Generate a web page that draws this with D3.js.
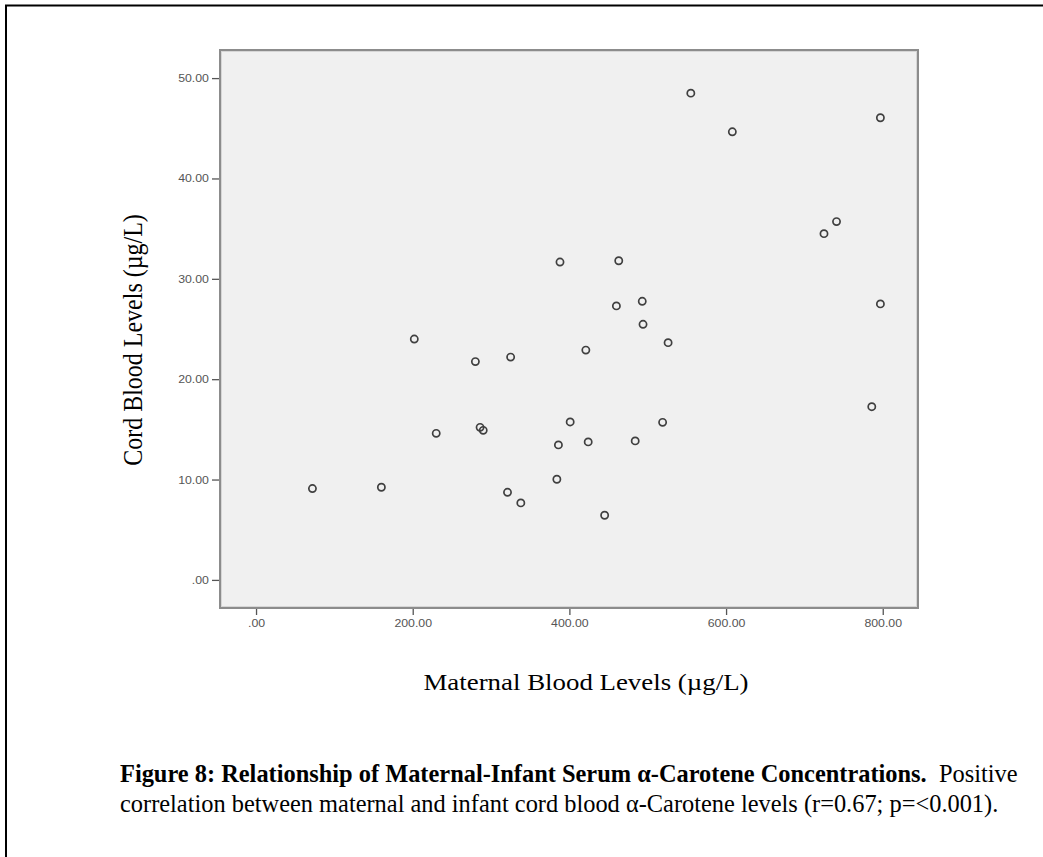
<!DOCTYPE html>
<html>
<head>
<meta charset="utf-8">
<script src="https://cdn.jsdelivr.net/npm/d3@7"></script>
<style>
  html, body { margin: 0; padding: 0; background: #fff; }
  svg { display: block; }
</style>
</head>
<body>
<svg id="chart" width="1043" height="857"></svg>
<script>
// Maternal serum α-carotene (µg/L) and matching cord blood value for each pair
const maternal = [555, 608, 797, 741, 725, 388, 463, 460, 493, 494, 797,
                  526, 421, 325, 786, 401, 519, 386, 424, 484, 384, 321, 338, 445,
                  202, 280, 230, 286, 290, 72, 160];
const cord     = [48.5, 44.65, 46.05, 35.7, 34.5, 31.67, 31.8, 27.3, 27.76, 25.47, 27.5,
                  23.64, 22.9, 22.2, 17.26, 15.74, 15.7, 13.45, 13.75, 13.85, 10.03, 8.73, 7.67, 6.44,
                  24.0, 21.75, 14.6, 15.2, 14.9, 9.1, 9.23];
const xTicks = [0, 200, 400, 600, 800];
const yTicks = [0, 10, 20, 30, 40, 50];
const xTitle = "Maternal Blood Levels (µg/L)";
const yTitle = "Cord Blood Levels (µg/L)";
const captionBold = "Figure 8: Relationship of Maternal-Infant Serum α-Carotene Concentrations.";
const captionRest1 = "  Positive";
const captionLine2 = "correlation between maternal and infant cord blood α-Carotene levels (r=0.67; p=<0.001).";

const svg = d3.select("#chart");
const widen = 1.12; // chart lettering is set slightly wide

// outer figure frame
svg.append("rect")
  .attr("x", 6).attr("y", 5.5).attr("width", 1060).attr("height", 880)
  .attr("fill", "none").attr("stroke", "#000").attr("stroke-width", 2);

// plot panel
const panel = { left: 220, top: 50, right: 918, bottom: 608 };
const x = d3.scaleLinear().domain([-46, 845]).range([panel.left, panel.right]);
const y = d3.scaleLinear().domain([-2.8, 52.8]).range([panel.bottom, panel.top]);

const defs = svg.append("defs");
defs.append("filter").attr("id", "soft")
  .append("feGaussianBlur").attr("stdDeviation", 0.45);

svg.append("rect")
  .attr("x", panel.left).attr("y", panel.top)
  .attr("width", panel.right - panel.left).attr("height", panel.bottom - panel.top)
  .attr("fill", "#f0f0f0");

// panel border: light shadow line inside, darker grey line on the edge
svg.append("rect")
  .attr("x", panel.left + 1.5).attr("y", panel.top + 1.5)
  .attr("width", panel.right - panel.left - 3).attr("height", panel.bottom - panel.top - 3)
  .attr("fill", "none").attr("stroke", "#d6d6d6").attr("stroke-width", 1);
svg.append("rect")
  .attr("x", panel.left).attr("y", panel.top)
  .attr("width", panel.right - panel.left).attr("height", panel.bottom - panel.top)
  .attr("fill", "none").attr("stroke", "#8c8c8c").attr("stroke-width", 2)
  .attr("filter", "url(#soft)");

// axes
const fmt = d => d === 0 ? ".00" : d3.format(".2f")(d);

const yAxis = svg.append("g")
  .attr("transform", `translate(${panel.left - 1},0)`)
  .call(d3.axisLeft(y).tickValues(yTicks).tickFormat(fmt).tickSize(7).tickPadding(2));
yAxis.select(".domain").remove();

const xAxis = svg.append("g")
  .attr("transform", `translate(0,${panel.bottom + 1})`)
  .call(d3.axisBottom(x).tickValues(xTicks).tickFormat(fmt).tickSize(6).tickPadding(4));
xAxis.select(".domain").remove();

svg.selectAll(".tick line").attr("stroke", "#555").attr("stroke-width", 1.3);
svg.selectAll(".tick text")
  .attr("fill", "#555")
  .attr("transform", `scale(${widen},1)`)
  .style("font-family", "'Liberation Sans', Arial, sans-serif")
  .style("font-size", "11px");

// points
svg.append("g")
  .attr("filter", "url(#soft)")
  .selectAll("circle")
  .data(maternal.map((m, i) => ({ m, c: cord[i] })))
  .join("circle")
  .attr("cx", d => x(d.m))
  .attr("cy", d => y(d.c))
  .attr("r", 3.6)
  .attr("fill", "none")
  .attr("stroke", "#3f3f3f")
  .attr("stroke-width", 1.7);

// axis titles
const serif = "'Liberation Serif', 'Times New Roman', serif";
svg.append("text")
  .attr("transform", `translate(586,690) scale(${widen},1)`)
  .attr("text-anchor", "middle")
  .style("font-family", serif).style("font-size", "24px")
  .text(xTitle);

svg.append("text")
  .attr("transform", `translate(142,340) scale(${widen},1) rotate(-90)`)
  .attr("text-anchor", "middle")
  .style("font-family", serif).style("font-size", "24px")
  .text(yTitle);

// caption
const cap = svg.append("text")
  .attr("x", 120).attr("y", 782)
  .style("font-family", serif).style("font-size", "24.4px")
  .attr("xml:space", "preserve");
cap.append("tspan").attr("font-weight", "bold").text(captionBold);
cap.append("tspan").text(captionRest1);

svg.append("text")
  .attr("x", 120).attr("y", 812)
  .style("font-family", serif).style("font-size", "24.4px")
  .text(captionLine2);
</script>
</body>
</html>
